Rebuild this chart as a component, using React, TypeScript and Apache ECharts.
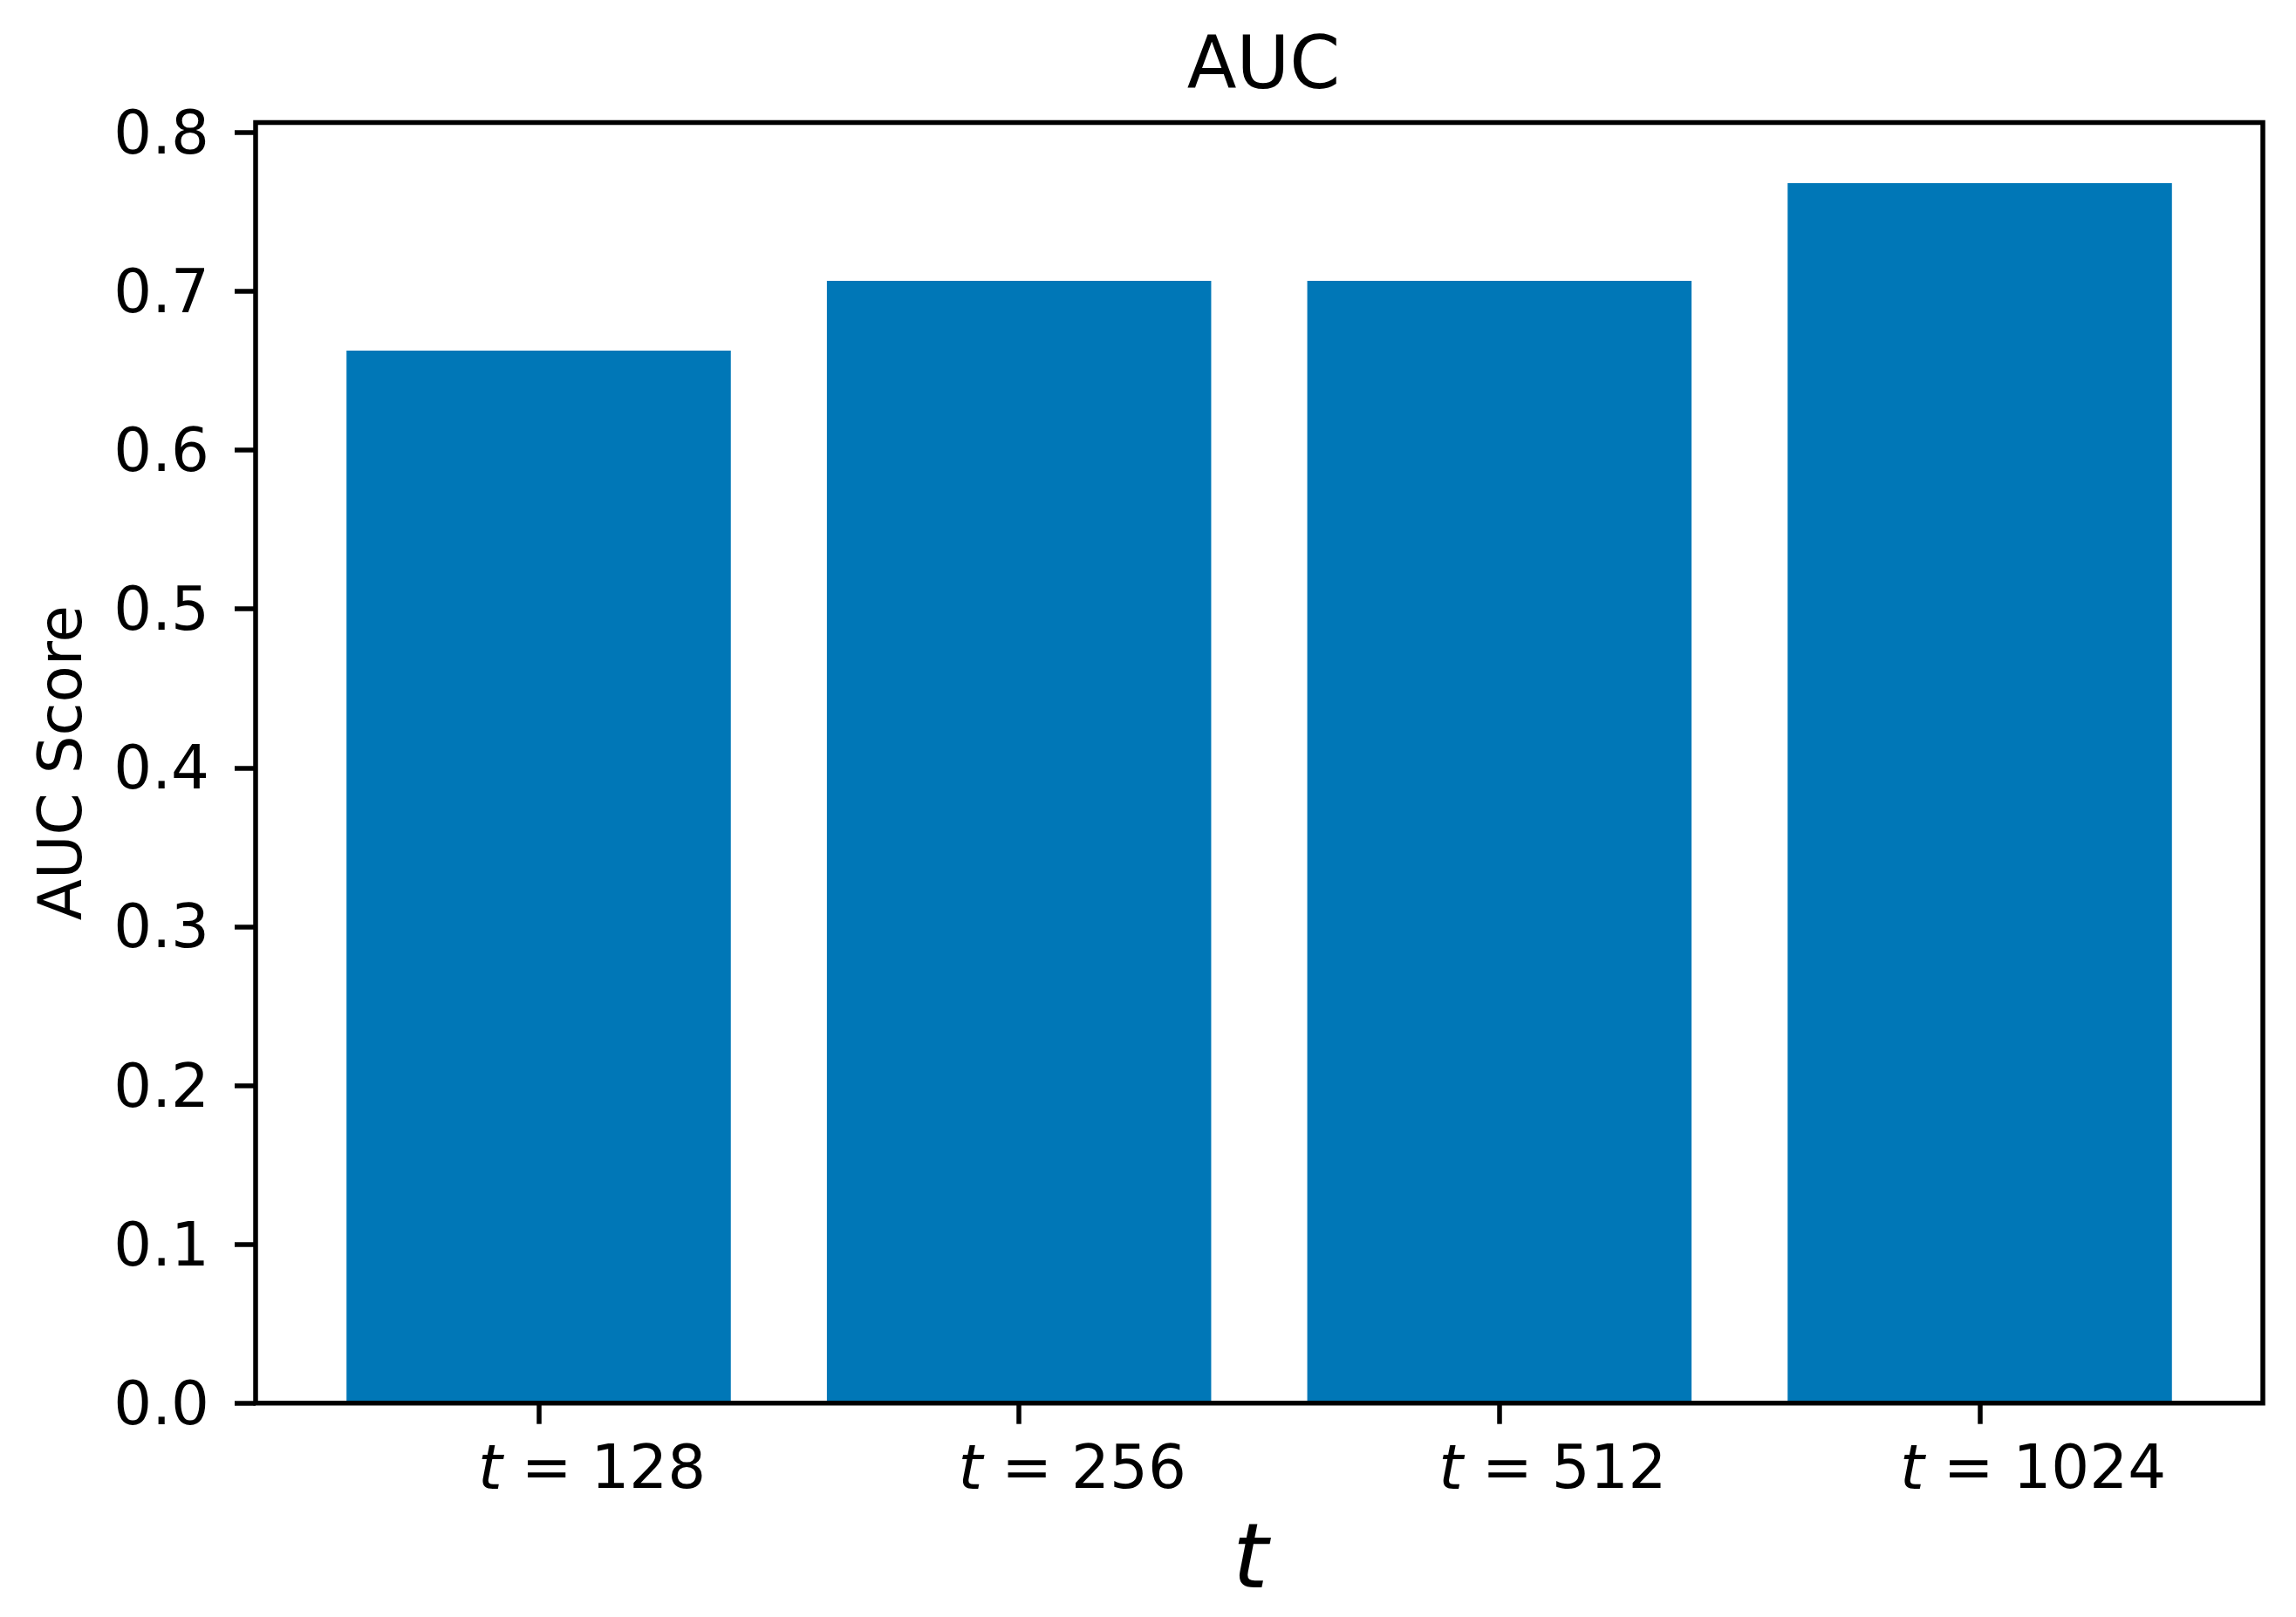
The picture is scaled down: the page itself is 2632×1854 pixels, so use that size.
import React, { useEffect, useRef } from 'react';
import * as echarts from 'echarts';

const chartTitle = 'AUC';
const yAxisName = 'AUC Score';
const xAxisName = 't';
const categories = ['128', '256', '512', '1024'];
const aucValues = [0.6627, 0.7066, 0.7066, 0.7681];
const yMin = 0;
const yTickMax = 0.8;
const yStep = 0.1;
const yFrameMax = 0.8063;

const FONT = '"DejaVu Sans", "Liberation Sans", sans-serif';
const BAR_COLOR = '#0077b7';

export default function App() {
  const ref = useRef<HTMLDivElement>(null);
  useEffect(() => {
    document.body.style.margin = '0';
    if (!ref.current) return;
    const chart = echarts.init(ref.current, null, { renderer: 'svg' });

    const fLeft = 293;
    const fTop = 140.5;
    const fRight = 2594;
    const fBottom = 1608.7;
    const fHeight = fBottom - fTop;
    const firstCenter = 617.5;
    const band = 550.67;
    const bLeft = firstCenter - band / 2;
    const bWidth = band * categories.length;
    const pxPerUnit = fHeight / (yFrameMax - yMin);
    const bTop = fBottom - (yTickMax - yMin) * pxPerUnit;

    const option: any = {
      animation: false,
      backgroundColor: '#ffffff',
      textStyle: { fontFamily: FONT, color: '#000' },
      title: {
        text: chartTitle,
        left: (fLeft + fRight) / 2,
        textAlign: 'center',
        top: 26,
        textStyle: { fontFamily: FONT, fontSize: 83, fontWeight: 'normal', color: '#000' },
      },
      grid: [
        {
          left: fLeft,
          top: fTop,
          width: fRight - fLeft,
          height: fHeight,
          show: true,
          borderColor: '#000',
          borderWidth: 5.5,
          backgroundColor: 'transparent',
          z: 10,
        },
        {
          left: bLeft,
          top: bTop,
          width: bWidth,
          height: fBottom - bTop,
        },
      ],
      xAxis: [
        {
          gridIndex: 0,
          type: 'value',
          min: 0,
          max: 1,
          axisLine: { show: false },
          axisTick: { show: false },
          axisLabel: { show: false },
          splitLine: { show: false },
          name: xAxisName,
          nameLocation: 'middle',
          nameGap: 123,
          nameTextStyle: {
            fontFamily: FONT,
            fontSize: 104,
            fontStyle: 'italic',
            color: '#000',
            padding: [0, 20, 0, 0],
          },
        },
        {
          gridIndex: 1,
          type: 'category',
          data: categories,
          boundaryGap: true,
          axisLine: { show: false },
          axisTick: {
            show: true,
            interval: 0,
            alignWithLabel: true,
            length: 24,
            lineStyle: { color: '#000', width: 5.5 },
          },
          axisLabel: {
            interval: 0,
            margin: 38,
            padding: [0, 0, 0, 122],
            fontFamily: FONT,
            fontSize: 69,
            color: '#000',
            formatter: (v: string) => `{i|t} = ${v}`,
            rich: { i: { fontFamily: FONT, fontSize: 71, fontStyle: 'italic', color: '#000' } },
          },
          splitLine: { show: false },
        },
      ],
      yAxis: [
        {
          gridIndex: 0,
          type: 'value',
          min: yMin,
          max: yFrameMax,
          axisLine: { show: false },
          axisTick: { show: false },
          axisLabel: { show: false },
          splitLine: { show: false },
          name: yAxisName,
          nameLocation: 'middle',
          nameGap: 190,
          nameTextStyle: { fontFamily: FONT, fontSize: 69, color: '#000' },
        },
        {
          gridIndex: 1,
          type: 'value',
          min: yMin,
          max: yTickMax,
          interval: yStep,
          offset: bLeft - fLeft,
          axisLine: { show: false },
          axisTick: { show: true, length: 24, lineStyle: { color: '#000', width: 5.5 } },
          axisLabel: {
            margin: 53,
            fontFamily: FONT,
            fontSize: 69,
            color: '#000',
            formatter: (v: number) => v.toFixed(1),
          },
          splitLine: { show: false },
        },
      ],
      series: [
        {
          type: 'bar',
          xAxisIndex: 1,
          yAxisIndex: 1,
          data: aucValues,
          barWidth: '80%',
          itemStyle: { color: BAR_COLOR },
        },
      ],
    };
    chart.setOption(option);
    return () => chart.dispose();
  }, []);
  return <div ref={ref} style={{ width: 2632, height: 1854 }} />;
}
